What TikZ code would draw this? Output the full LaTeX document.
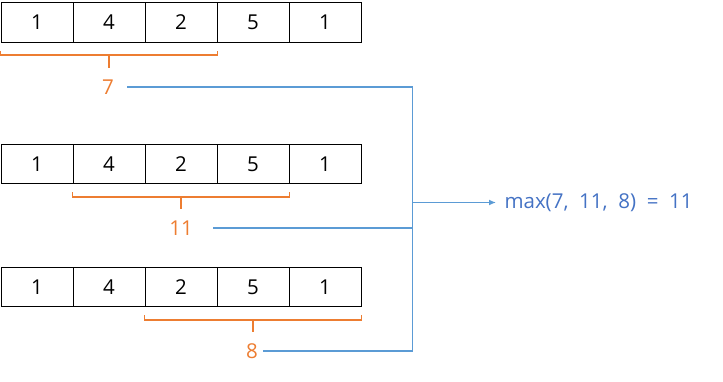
\documentclass[tikz,border=0pt]{standalone}
\usepackage{fontspec}
\setmainfont{Open Sans}
\usetikzlibrary{positioning,calc,arrows.meta}
\definecolor{sumorange}{HTML}{ED7D31}
\definecolor{linkblue}{HTML}{5B9BD5}
\definecolor{resblue}{HTML}{4472C4}

\begin{document}
\begin{tikzpicture}[x=1pt, y=-1pt, font=\fontsize{20.5}{24}\selectfont,
    cell/.style={draw, minimum width=72pt, minimum height=39.5pt, inner sep=0pt, line width=1pt},
    brace/.style={draw=sumorange, line width=1.6pt},
    link/.style={draw=linkblue, line width=1.8pt}]
    \useasboundingbox (0,0) rectangle (723,381);
    % ---- three copies of the array, one per window
    \foreach \r/\y in {1/22.5, 2/164, 3/287.2} {
      \foreach \v [count=\c] in {1,4,2,5,1}
        { \node[cell] (r\r c\c) at (1+72*\c-36, \y) {\v}; }
    }
    % ---- window sums under each array
    \node[text=sumorange] (s1) at (108, 87)  {7};
    \node[text=sumorange] (s2) at (181, 228) {11};
    \node[text=sumorange] (s3) at (252, 351) {8};
    \foreach \r/\a/\b in {1/1/3, 2/2/4, 3/3/5} {
      \draw[brace] ($(r\r c\a.south west)+(0,8)$) -- ++(0,4.5) -| ($(r\r c\b.south east)+(0,8)$);
      \draw[brace] ($(r\r c\a.south west)!0.5!(r\r c\b.south east)+(0,12.5)$) -- ++(0,12.5);
    }
    % ---- gather the sums into the maximum
    \coordinate (from1) at (127, 87);
    \coordinate (from2) at (213, 228.3);
    \coordinate (from3) at (263, 351);
    \coordinate (top)  at (412.5, 87);
    \coordinate (mid)  at (412.5, 228.3);
    \coordinate (bot)  at (412.5, 351);
    \coordinate (fork) at (412.5, 202.5);
    \node[text=resblue, anchor=west] (res) at (501, 202.5) {max(7,\ \ 11,\ \ 8)\ \ =\ \ 11};
    \draw[link] (from1) -- (top) -- (bot) -- (from3);
    \draw[link] (from2) -- (mid);
    \draw[link, -{Latex[length=7pt,width=6pt]}] (fork) -- ($(res.west)+(-5,0)$);
\end{tikzpicture}
\end{document}
